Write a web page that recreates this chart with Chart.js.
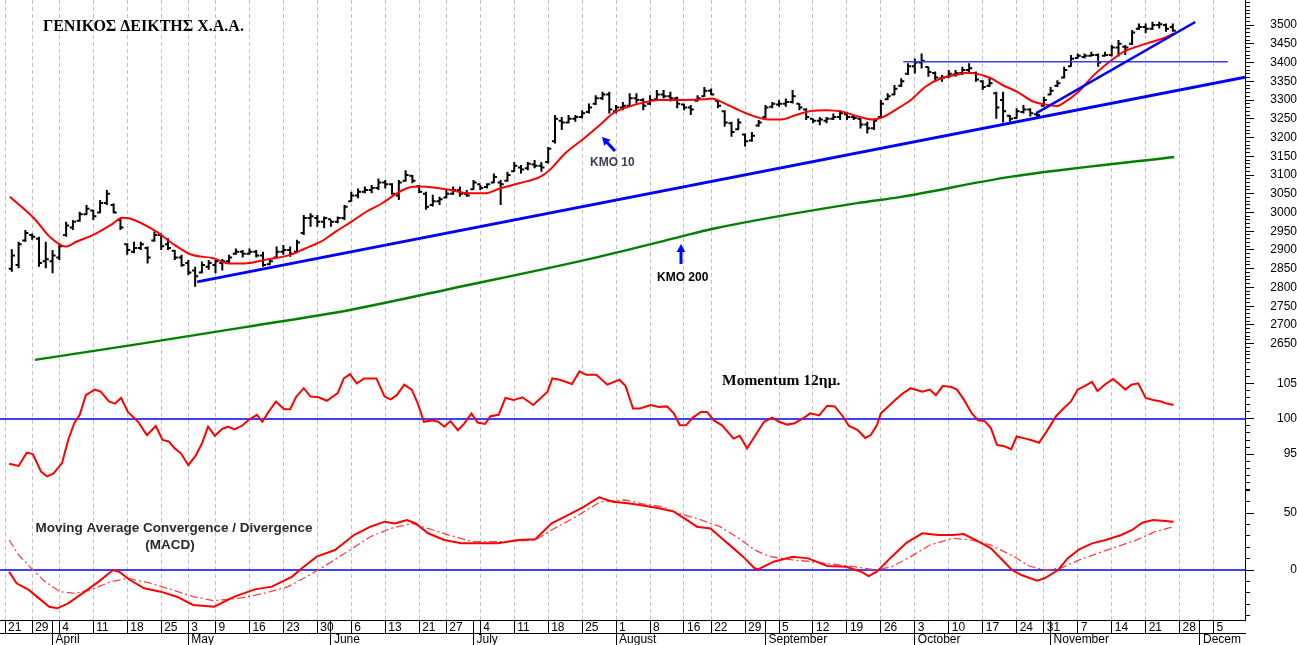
<!DOCTYPE html>
<html>
<head>
<meta charset="utf-8">
<title>ΓΕΝΙΚΟΣ ΔΕΙΚΤΗΣ Χ.Α.Α.</title>
<script src="https://cdn.jsdelivr.net/npm/chart.js@4.4.1/dist/chart.umd.min.js"></script>
<style>
  html, body { margin: 0; padding: 0; background: #fff; }
  canvas { display: block; }
</style>
</head>
<body>
<canvas id="chart" width="1297" height="645"></canvas>
<script>
(function () {
    'use strict';

    // daily bars, trading day 1 .. 172 (day 0 = 21 March)
    var FIRST_DAY = 1;
    var ohlcHigh = [
        2902, 2922, 2953, 2944, 2935, 2922, 2900, 2918, 2975, 2980,
        3002, 3020, 3007, 3033, 3060, 3024, 2984, 2918, 2922, 2922,
        2909, 2949, 2944, 2931, 2900, 2887, 2873, 2855, 2869, 2873,
        2873, 2876, 2887, 2904, 2900, 2904, 2900, 2895, 2878, 2909,
        2913, 2909, 2927, 2993, 2998, 2993, 2989, 2980, 2989, 3020,
        3055, 3064, 3069, 3073, 3091, 3087, 3078, 3087, 3113, 3100,
        3073, 3055, 3047, 3042, 3060, 3069, 3069, 3060, 3087, 3073,
        3078, 3104, 3087, 3109, 3135, 3127, 3135, 3140, 3135, 3175,
        3260, 3255, 3260, 3260, 3273, 3291, 3313, 3322, 3322, 3287,
        3295, 3318, 3318, 3305, 3313, 3327, 3327, 3322, 3309, 3291,
        3287, 3313, 3335, 3331, 3300, 3273, 3242, 3251, 3211, 3215,
        3247, 3287, 3295, 3300, 3304, 3327, 3291, 3278, 3251, 3255,
        3255, 3264, 3273, 3269, 3260, 3251, 3242, 3251, 3300, 3318,
        3340, 3358, 3398, 3411, 3424, 3389, 3376, 3367, 3380, 3380,
        3389, 3398, 3376, 3353, 3358, 3322, 3322, 3260, 3278, 3287,
        3278, 3269, 3309, 3335, 3353, 3389, 3420, 3424, 3424, 3429,
        3424, 3429, 3447, 3460, 3447, 3487, 3504, 3504, 3509, 3509,
        3504, 3504
    ];
    var ohlcLow = [
        2842, 2851, 2922, 2927, 2855, 2851, 2838, 2873, 2935, 2953,
        2975, 2993, 2980, 2998, 3020, 2998, 2953, 2887, 2891, 2900,
        2864, 2922, 2900, 2900, 2873, 2855, 2833, 2802, 2838, 2847,
        2838, 2845, 2864, 2887, 2880, 2887, 2880, 2855, 2860, 2878,
        2887, 2882, 2891, 2940, 2962, 2962, 2958, 2962, 2971, 2980,
        3029, 3038, 3051, 3051, 3060, 3064, 3047, 3033, 3082, 3078,
        3051, 3007, 3016, 3020, 3038, 3047, 3042, 3042, 3060, 3060,
        3064, 3078, 3020, 3082, 3109, 3104, 3113, 3118, 3109, 3131,
        3184, 3220, 3238, 3242, 3251, 3264, 3287, 3300, 3264, 3264,
        3273, 3282, 3291, 3273, 3287, 3300, 3304, 3296, 3278, 3273,
        3260, 3296, 3309, 3313, 3278, 3229, 3202, 3220, 3176, 3189,
        3229, 3251, 3278, 3282, 3282, 3291, 3273, 3247, 3238, 3233,
        3238, 3247, 3247, 3247, 3247, 3224, 3211, 3220, 3251, 3300,
        3313, 3335, 3367, 3371, 3384, 3362, 3349, 3349, 3358, 3362,
        3367, 3371, 3349, 3327, 3335, 3250, 3240, 3242, 3251, 3264,
        3256, 3251, 3282, 3313, 3335, 3358, 3389, 3411, 3411, 3416,
        3389, 3416, 3416, 3416, 3420, 3447, 3487, 3478, 3487, 3491,
        3482, 3482
    ];
    var ohlcOpen = [
        2850, 2860, 2925, 2940, 2930, 2870, 2870, 2880, 2940, 2960,
        2978, 2995, 3005, 3000, 3025, 3020, 2980, 2915, 2895, 2905,
        2905, 2925, 2940, 2915, 2898, 2880, 2865, 2845, 2840, 2855,
        2860, 2865, 2870, 2890, 2895, 2890, 2895, 2885, 2862, 2880,
        2895, 2900, 2895, 2945, 2985, 2985, 2975, 2982, 2975, 2985,
        3030, 3045, 3055, 3060, 3065, 3080, 3075, 3045, 3085, 3098,
        3070, 3050, 3020, 3030, 3040, 3050, 3060, 3050, 3062, 3075,
        3068, 3080, 3080, 3085, 3110, 3120, 3118, 3128, 3125, 3135,
        3190, 3245, 3240, 3250, 3255, 3268, 3290, 3305, 3315, 3270,
        3280, 3285, 3305, 3300, 3290, 3302, 3315, 3310, 3305, 3288,
        3280, 3298, 3310, 3325, 3298, 3270, 3238, 3222, 3208, 3192,
        3232, 3255, 3282, 3288, 3290, 3295, 3290, 3275, 3250, 3245,
        3245, 3250, 3255, 3262, 3255, 3250, 3235, 3225, 3255, 3302,
        3315, 3338, 3370, 3390, 3400, 3388, 3372, 3358, 3362, 3368,
        3372, 3380, 3372, 3350, 3338, 3318, 3300, 3258, 3252, 3268,
        3275, 3262, 3285, 3315, 3338, 3360, 3390, 3412, 3415, 3418,
        3420, 3418, 3420, 3440, 3442, 3450, 3490, 3495, 3490, 3500,
        3500, 3495
    ];
    var ohlcClose = [
        2885, 2915, 2945, 2935, 2865, 2875, 2885, 2910, 2965, 2975,
        2995, 3010, 2990, 3025, 3050, 3000, 2960, 2900, 2905, 2915,
        2880, 2940, 2910, 2905, 2880, 2860, 2840, 2830, 2860, 2865,
        2870, 2870, 2880, 2895, 2890, 2895, 2885, 2860, 2870, 2895,
        2900, 2890, 2920, 2985, 2990, 2975, 2985, 2975, 2985, 3015,
        3045, 3055, 3060, 3065, 3080, 3075, 3050, 3080, 3100, 3085,
        3055, 3015, 3030, 3035, 3050, 3060, 3050, 3045, 3080, 3065,
        3075, 3095, 3075, 3100, 3125, 3115, 3130, 3125, 3120, 3170,
        3250, 3240, 3250, 3255, 3265, 3280, 3305, 3315, 3275, 3280,
        3285, 3305, 3300, 3285, 3300, 3315, 3310, 3305, 3290, 3280,
        3275, 3305, 3325, 3315, 3285, 3240, 3215, 3240, 3190, 3205,
        3240, 3280, 3290, 3290, 3295, 3310, 3280, 3255, 3245, 3248,
        3250, 3255, 3265, 3255, 3252, 3235, 3225, 3245, 3290, 3310,
        3330, 3350, 3390, 3400, 3405, 3375, 3360, 3360, 3370, 3372,
        3380, 3385, 3355, 3335, 3345, 3280, 3270, 3250, 3270, 3275,
        3265, 3260, 3300, 3325, 3345, 3380, 3410, 3418, 3418, 3420,
        3400, 3420, 3440, 3450, 3440, 3480, 3495, 3490, 3500, 3502,
        3490, 3485
    ];

    // 10-day moving average (red)
    var ma10Days = [0.7, 4.3, 6.6, 8.9, 10.5, 13.3, 15.6, 17.3, 18.4, 22.3,
        24.6, 27.4, 30.7, 33, 35.2, 38.6, 42, 44.2, 46.5, 48.7,
        51, 53.2, 55.5, 57.7, 59.4, 61.1, 63.4, 65.6, 68.4, 70.6,
        72.9, 75.7, 78.8, 80.2, 82.5, 85.3, 87.9, 89.5, 91.8, 94,
        96.3, 100.2, 103, 104.1, 105.5, 107.5, 109.8, 112, 114.3, 116.5,
        118.8, 121, 123.3, 125.5, 127.8, 129.5, 131.1, 133.4, 135.6, 137.9,
        140.1, 141.8, 142.9, 145.2, 146.9, 149.1, 151.4, 153.6, 155, 155.8,
        158.1, 160.4, 163.7, 164.8, 168.2, 170.5, 172.2];
    var ma10Values = [3042, 2984, 2935, 2909, 2922, 2943, 2967, 2986, 2984, 2949,
        2918, 2888, 2878, 2864, 2864, 2875, 2887, 2904, 2922, 2949,
        2975, 3002, 3024, 3051, 3066, 3069, 3066, 3060, 3051, 3051,
        3064, 3078, 3095, 3113, 3158, 3198, 3238, 3264, 3282, 3293,
        3300, 3300, 3302, 3304, 3295, 3278, 3260, 3249, 3248, 3260,
        3271, 3273, 3269, 3257, 3248, 3256, 3273, 3300, 3336, 3358,
        3367, 3373, 3371, 3358, 3340, 3322, 3296, 3287, 3284, 3291,
        3322, 3367, 3416, 3429, 3451, 3464, 3478];

    // 200-day moving average (green)
    var ma200Days = [4.4, 18.9, 35.6, 50.8, 65.5, 87.3, 99.4, 104.1, 125.5, 131.8, 148, 172.2];
    var ma200Values = [2607, 2647, 2695, 2740, 2796, 2881, 2935, 2956, 3025, 3041, 3095, 3148];

    // drawn lines on the price panel
    var trendDays = [28.3, 182.63];
    var trendValues = [2815, 3361];
    var steepTrendDays = [151.9, 175.3];
    var steepTrendValues = [3265, 3508];
    var resistanceDays = [132.3, 180.1];
    var resistanceValues = [3402, 3402];

    // 12-day momentum
    var momDays = [0.6, 2.0, 3.2, 4.1, 5.3, 6.2, 7.1, 8.4, 9.3, 10.2,
        11.0, 11.9, 13.2, 14.1, 15.3, 16.2, 17.1, 18.1, 19.6, 20.9,
        22.2, 23.2, 24.1, 25.0, 25.9, 27.0, 28.1, 29.0, 29.9, 30.9,
        32.0, 32.8, 33.8, 35.0, 35.9, 37.1, 37.9, 38.8, 39.9, 41.1,
        42.0, 42.9, 44.0, 45.0, 46.2, 47.4, 49.0, 49.9, 50.8, 51.8,
        52.9, 54.7, 55.9, 56.8, 57.7, 58.8, 59.9, 60.8, 61.7, 62.9,
        63.8, 64.7, 65.6, 66.7, 67.6, 68.7, 69.6, 70.7, 71.5, 72.7,
        73.7, 74.9, 76.2, 77.8, 79.9, 80.6, 81.7, 83.5, 84.6, 85.6,
        87.1, 88.7, 90.5, 91.4, 92.5, 93.5, 95.1, 96.3, 97.5, 98.5,
        99.4, 100.3, 101.3, 102.5, 103.4, 104.4, 105.6, 107.3, 108.2, 109.3,
        110.4, 111.8, 113.0, 114.0, 115.2, 116.3, 117.4, 118.6, 119.9, 121.1,
        122.2, 123.3, 124.3, 125.6, 126.7, 127.5, 128.4, 129.0, 130.0, 131.1,
        132.3, 133.4, 135.1, 136.2, 137.1, 138.1, 139.3, 140.2, 141.2, 142.4,
        143.3, 144.3, 145.2, 146.1, 147.2, 148.2, 149.0, 150.3, 151.1, 152.3,
        153.4, 154.8, 155.9, 157.0, 158.0, 159.0, 160.1, 160.9, 162.1, 163.2,
        164.1, 165.0, 165.9, 166.9, 168.0, 169.1, 170.3, 171.1, 172.1];
    var momValues = [93.6, 93.3, 95.2, 95.0, 92.5, 91.8, 92.2, 93.7, 97.0, 99.4,
        100.6, 103.4, 104.2, 103.9, 102.5, 102.2, 103.0, 101.0, 99.6, 97.7,
        99.0, 97.0, 96.8, 95.8, 95.1, 93.4, 94.8, 96.5, 98.9, 97.6,
        98.6, 98.9, 98.5, 99.1, 99.9, 100.6, 99.6, 101.0, 102.5, 101.4,
        101.4, 103.2, 104.4, 103.2, 103.1, 102.6, 103.7, 105.8, 106.4, 105.1,
        105.8, 105.8, 103.2, 102.8, 103.4, 104.9, 104.2, 102.2, 99.6, 99.8,
        99.6, 98.9, 99.7, 98.4, 99.3, 100.8, 99.5, 99.3, 100.4, 100.6,
        103.0, 102.7, 103.1, 102.0, 103.9, 105.8, 105.6, 105.0, 106.8, 106.3,
        106.3, 104.9, 105.6, 104.7, 101.5, 101.5, 102.0, 101.7, 101.8, 100.8,
        99.1, 99.1, 100.2, 101.0, 101.0, 99.8, 99.1, 97.2, 97.6, 95.8,
        97.5, 99.6, 100.2, 99.6, 99.2, 99.4, 100.0, 100.8, 100.5, 101.9,
        101.8, 100.5, 99.0, 98.4, 97.3, 97.7, 99.1, 100.8, 101.7, 102.7,
        103.7, 104.4, 103.9, 104.2, 103.4, 104.7, 104.6, 104.2, 102.8, 100.8,
        99.8, 99.7, 98.7, 96.3, 96.1, 95.7, 97.5, 97.2, 97.0, 96.6,
        98.2, 100.4, 101.5, 102.5, 104.2, 104.7, 105.3, 104.0, 105.0, 105.7,
        105.0, 104.2, 104.9, 105.1, 103.0, 102.7, 102.5, 102.2, 102.0];
    var momBaseValue = 100;

    // MACD and its signal line
    var macdDays = [0.6, 1.7, 3.5, 5.0, 6.5, 7.7, 9.3, 11.4, 13.8, 15.9,
        16.8, 18.4, 20.5, 22.9, 25.3, 27.7, 30.8, 33.8, 36.8, 39.3,
        42.3, 43.4, 45.9, 48.6, 51.4, 53.8, 55.9, 57.4, 59.2, 60.5,
        62.3, 64.7, 67.2, 69.5, 72.6, 75.6, 78.1, 80.5, 82.9, 85.3,
        87.5, 89.5, 91.7, 93.5, 96.3, 98.5, 100.8, 101.9, 103.9, 105.3,
        107.0, 108.7, 110.4, 110.9, 113.2, 116.0, 118.3, 121.1, 123.9, 126.1,
        127.2, 128.4, 130.6, 132.8, 135.1, 137.4, 139.6, 141.2, 143.0, 145.2,
        146.9, 148.3, 149.7, 152.0, 153.1, 155.1, 156.5, 158.2, 160.1, 162.1,
        164.4, 166.0, 167.5, 169.1, 170.5, 172.1];
    var macdValues = [-1.5, -11.7, -17.5, -24.9, -32.2, -33.6, -29.2, -20.5, -10.2, 0,
        -1.5, -8.8, -16.1, -19.0, -23.4, -30.7, -32.2, -23.4, -17.0, -14.6,
        -5.8, 0, 11.7, 17.5, 30.7, 38.0, 42.4, 40.9, 43.9, 40.9,
        32.2, 26.3, 23.4, 23.4, 23.4, 26.3, 26.9, 40.9, 48.2, 55.6,
        63.8, 59.9, 58.5, 57.0, 54.1, 51.2, 42.4, 38.0, 36.5, 29.2,
        20.5, 11.7, 1.5, 0.6, 7.3, 11.7, 10.2, 3.5, 2.9, -1.5,
        -5.3, -1.5, 11.7, 24.0, 32.2, 30.7, 30.7, 31.6, 26.3, 19.0,
        8.8, 0, -4.4, -9.4, -7.3, 0, 10.2, 18.1, 23.4, 26.3,
        30.7, 35.1, 41.5, 43.9, 43.3, 42.4];
    var signalDays = [0.6, 2.0, 4.1, 5.9, 8.1, 10.2, 12.6, 15.6, 18.1, 21.1,
        24.7, 27.7, 30.8, 34.4, 38.1, 41.7, 45.3, 47.7, 50.8, 53.8,
        56.8, 59.9, 62.3, 65.3, 68.9, 73.8, 78.1, 80.5, 84.1, 87.7,
        91.4, 93.9, 96.9, 99.1, 101.9, 105.3, 108.1, 110.4, 112.7, 116.0,
        118.8, 121.6, 125.0, 128.4, 130.6, 133.4, 136.2, 139.6, 142.4, 145.2,
        148.6, 150.8, 153.1, 155.4, 158.2, 160.9, 163.8, 166.6, 169.4, 172.1];
    var signalValues = [26.3, 13.2, 0, -10.2, -19.0, -20.5, -17.5, -10.2, -7.3, -11.1,
        -17.5, -23.4, -26.9, -24.9, -20.5, -14.6, -2.9, 5.8, 17.5, 29.2,
        36.5, 40.9, 36.5, 30.7, 24.9, 24.9, 26.3, 35.1, 46.8, 59.9,
        61.4, 58.0, 55.5, 49.7, 45.3, 38.0, 27.8, 17.5, 11.7, 8.8,
        7.3, 5.3, 2.9, 0, 2.9, 11.7, 21.9, 27.8, 26.3, 21.9,
        11.7, 3.5, 0, 1.5, 8.8, 14.6, 20.5, 26.3, 33.6, 38.0];
    var macdBaseValue = 0;

    // bottom axis: first trading day of each week / month
    var weekTickDays = [0, 4, 8, 13, 18, 23, 27, 31, 36, 41, 46, 51, 56, 61, 65, 70, 75, 80, 85,
        90, 95, 100, 104, 109, 114, 119, 124, 129, 134, 139, 144, 149, 153, 158, 163, 168, 173, 178];
    var weekTickLabels = ['21', '29', '4', '11', '18', '25', '3', '9', '16', '23', '30', '6', '13', '21', '27', '4', '11', '18', '25',
        '1', '8', '16', '22', '29', '5', '12', '19', '26', '3', '10', '17', '24', '31', '7', '14', '21', '28', '5'];
    var monthTickDays = [7, 27, 48, 69, 90, 112, 134, 154, 176];
    var monthTickLabels = ['April', 'May', 'June', 'July', 'August', 'September', 'October', 'November', 'Decem'];

    // right axis labels
    var priceTickLabels = [2650, 2700, 2750, 2800, 2850, 2900, 2950, 3000, 3050, 3100, 3150,
        3200, 3250, 3300, 3350, 3400, 3450, 3500];
    var momTickLabels = [95, 100, 105];
    var macdTickLabels = [0, 50];

    var TITLE_TEXT = 'ΓΕΝΙΚΟΣ ΔΕΙΚΤΗΣ Χ.Α.Α.';
    var MOM_TEXT = 'Momentum 12ημ.';
    var MACD_TEXT_1 = 'Moving Average Convergence / Divergence';
    var MACD_TEXT_2 = '(MACD)';
    var MA10_TEXT = 'ΚΜΟ 10';
    var MA200_TEXT = 'ΚΜΟ 200';

    // panel ranges (chart area 0..620 px: price 365, momentum 125, macd 130)
    var X_MIN = -0.74, X_MAX = 182.63;
    var PRICE_MIN = 2593.3, PRICE_MAX = 3566.7;
    var MOM_MIN = 89.86, MOM_MAX = 107.71;
    var MACD_MIN = -43.86, MACD_MAX = 70.18;
    var AXIS_FONT = '"Liberation Sans", Arial, sans-serif';

    function points(days, values) {
        var out = [];
        for (var i = 0; i < days.length; i++) {
            out.push({ x: days[i], y: values[i] });
        }
        return out;
    }

    function ohlcPoints() {
        var out = [];
        for (var i = 0; i < ohlcHigh.length; i++) {
            var d = FIRST_DAY + i;
            out.push({ x: d, y: ohlcLow[i] }, { x: d, y: ohlcHigh[i] }, { x: d, y: null });
            out.push({ x: d - 0.45, y: ohlcOpen[i] }, { x: d, y: ohlcOpen[i] }, { x: d, y: null });
            out.push({ x: d, y: ohlcClose[i] }, { x: d + 0.45, y: ohlcClose[i] }, { x: d + 0.45, y: null });
        }
        return out;
    }

    function lineSet(data, color, width, axis, extra) {
        var ds = {
            data: data,
            borderColor: color,
            borderWidth: width,
            pointRadius: 0,
            fill: false,
            tension: 0,
            yAxisID: axis
        };
        for (var k in extra || {}) {
            ds[k] = extra[k];
        }
        return ds;
    }

    function rightAxis(min, max, weight, from, to, step, labels, padding) {
        return {
            type: 'linear',
            position: 'right',
            stack: 'panels',
            stackWeight: weight,
            min: min,
            max: max,
            afterBuildTicks: function (scale) {
                var t = [];
                for (var v = from; v <= to; v += step) {
                    t.push({ value: v });
                }
                scale.ticks = t;
            },
            afterFit: function (scale) {
                scale.width = 52;
                scale.paddingTop = 0;
                scale.paddingBottom = 0;
            },
            ticks: {
                autoSkip: false,
                crossAlign: 'far',
                padding: padding,
                color: '#000',
                font: { family: AXIS_FONT, size: 12 },
                callback: function (v) {
                    return labels.indexOf(v) >= 0 ? String(v) : '';
                }
            },
            grid: {
                drawOnChartArea: false,
                tickLength: 9,
                tickColor: '#000',
                tickWidth: 1,
                tickBorderDash: function (ctx) {
                    return ctx.tick && labels.indexOf(ctx.tick.value) >= 0 ? [] : [4, 40];
                }
            },
            border: { color: '#000', width: 1 }
        };
    }

    function drawArrow(ctx, x1, y1, x2, y2) {
        var ang = Math.atan2(y2 - y1, x2 - x1);
        var head = 9;
        ctx.strokeStyle = '#0000ff';
        ctx.fillStyle = '#0000ff';
        ctx.lineWidth = 3;
        ctx.beginPath();
        ctx.moveTo(x1, y1);
        ctx.lineTo(x2 - head * 0.7 * Math.cos(ang), y2 - head * 0.7 * Math.sin(ang));
        ctx.stroke();
        ctx.beginPath();
        ctx.moveTo(x2, y2);
        ctx.lineTo(x2 - head * Math.cos(ang - 0.5), y2 - head * Math.sin(ang - 0.5));
        ctx.lineTo(x2 - head * Math.cos(ang + 0.5), y2 - head * Math.sin(ang + 0.5));
        ctx.closePath();
        ctx.fill();
    }

    var notesPlugin = {
        id: 'chartNotes',
        afterDraw: function (chart) {
            var ctx = chart.ctx;
            ctx.save();
            ctx.textBaseline = 'alphabetic';
            ctx.fillStyle = '#000';
            ctx.textAlign = 'left';
            ctx.font = 'bold 16px "Liberation Serif", serif';
            ctx.fillText(TITLE_TEXT, 43, 31);
            ctx.font = 'bold 15.5px "Liberation Serif", serif';
            ctx.fillText(MOM_TEXT, 722, 385);

            ctx.font = 'bold 12px ' + AXIS_FONT;
            ctx.fillStyle = '#3c3c58';
            ctx.fillText(MA10_TEXT, 590, 166);
            ctx.fillStyle = '#000';
            ctx.fillText(MA200_TEXT, 657, 281);

            ctx.fillStyle = '#2a2a2a';
            ctx.textAlign = 'center';
            ctx.font = 'bold 13.5px ' + AXIS_FONT;
            ctx.fillText(MACD_TEXT_1, 174, 532);
            ctx.fillText(MACD_TEXT_2, 170, 549);

            drawArrow(ctx, 615, 151, 602, 137);
            drawArrow(ctx, 681, 264, 681, 244);
            ctx.restore();
        }
    };

    var allXTicks = weekTickDays.concat(monthTickDays.filter(function (d) {
        return weekTickDays.indexOf(d) < 0;
    })).sort(function (a, b) { return a - b; });

    new Chart(document.getElementById('chart'), {
        type: 'line',
        data: {
            datasets: [
                lineSet(points(steepTrendDays, steepTrendValues), '#0000ff', 2.5, 'yPrice'),
                lineSet(points(trendDays, trendValues), '#0000ff', 3, 'yPrice'),
                lineSet(points(resistanceDays, resistanceValues), '#3a3aff', 1.3, 'yPrice'),
                lineSet(points(ma10Days, ma10Values), '#ff0000', 2, 'yPrice', { cubicInterpolationMode: 'monotone' }),
                lineSet(points(ma200Days, ma200Values), '#008000', 2.5, 'yPrice', { cubicInterpolationMode: 'monotone' }),
                lineSet(points(momDays, momValues), '#ff0000', 2, 'yMom'),
                lineSet(points([X_MIN, X_MAX], [momBaseValue, momBaseValue]), '#0000ff', 1.5, 'yMom'),
                lineSet(points(macdDays, macdValues), '#ff0000', 2, 'yMacd'),
                lineSet(points(signalDays, signalValues), '#ff4040', 1.3, 'yMacd', { borderDash: [8, 3, 2, 3] }),
                lineSet(points([X_MIN, X_MAX], [macdBaseValue, macdBaseValue]), '#0000ff', 1.5, 'yMacd'),
                lineSet(ohlcPoints(), '#000000', 2, 'yPrice', { spanGaps: false })
            ]
        },
        options: {
            responsive: false,
            animation: false,
            events: [],
            layout: { padding: 0, autoPadding: false },
            plugins: {
                legend: { display: false },
                tooltip: { enabled: false }
            },
            scales: {
                x: {
                    type: 'linear',
                    position: 'bottom',
                    min: X_MIN,
                    max: X_MAX,
                    afterBuildTicks: function (scale) {
                        scale.ticks = allXTicks.map(function (v) { return { value: v }; });
                    },
                    afterFit: function (scale) {
                        scale.height = 13;
                        scale.paddingLeft = 0;
                        scale.paddingRight = 0;
                    },
                    ticks: {
                        autoSkip: false,
                        maxRotation: 0,
                        minRotation: 0,
                        align: 'start',
                        labelOffset: 3,
                        padding: -13,
                        color: '#000',
                        font: { family: AXIS_FONT, size: 12 },
                        callback: function (v) {
                            var k = weekTickDays.indexOf(v);
                            return k >= 0 ? weekTickLabels[k] : '';
                        }
                    },
                    grid: {
                        color: function (ctx) {
                            return ctx.tick && weekTickDays.indexOf(ctx.tick.value) >= 0 ? '#c4c4c4' : 'rgba(0,0,0,0)';
                        },
                        lineWidth: 1,
                        tickLength: 13,
                        tickColor: '#000',
                        tickWidth: 1
                    },
                    border: { color: '#000', width: 1, dash: [4, 3] }
                },
                x2: {
                    type: 'linear',
                    position: 'bottom',
                    min: X_MIN,
                    max: X_MAX,
                    afterBuildTicks: function (scale) {
                        scale.ticks = monthTickDays.map(function (v) { return { value: v }; });
                    },
                    afterFit: function (scale) {
                        scale.height = 12;
                        scale.paddingLeft = 0;
                        scale.paddingRight = 0;
                    },
                    ticks: {
                        autoSkip: false,
                        maxRotation: 0,
                        minRotation: 0,
                        align: 'start',
                        labelOffset: 3,
                        padding: -13,
                        color: '#000',
                        font: { family: AXIS_FONT, size: 12 },
                        callback: function (v) {
                            var k = monthTickDays.indexOf(v);
                            return k >= 0 ? monthTickLabels[k] : '';
                        }
                    },
                    grid: {
                        drawOnChartArea: false,
                        tickLength: 12,
                        tickColor: '#000',
                        tickWidth: 1
                    },
                    border: { color: '#000', width: 1 }
                },
                yPrice: rightAxis(PRICE_MIN, PRICE_MAX, 365, 2600, 3560, 10, priceTickLabels, 14),
                yMom: rightAxis(MOM_MIN, MOM_MAX, 125, 90, 107, 1, momTickLabels, 21),
                yMacd: rightAxis(MACD_MIN, MACD_MAX, 130, -40, 70, 10, macdTickLabels, 25)
            }
        },
        plugins: [notesPlugin]
    });
})();
</script>
</body>
</html>
